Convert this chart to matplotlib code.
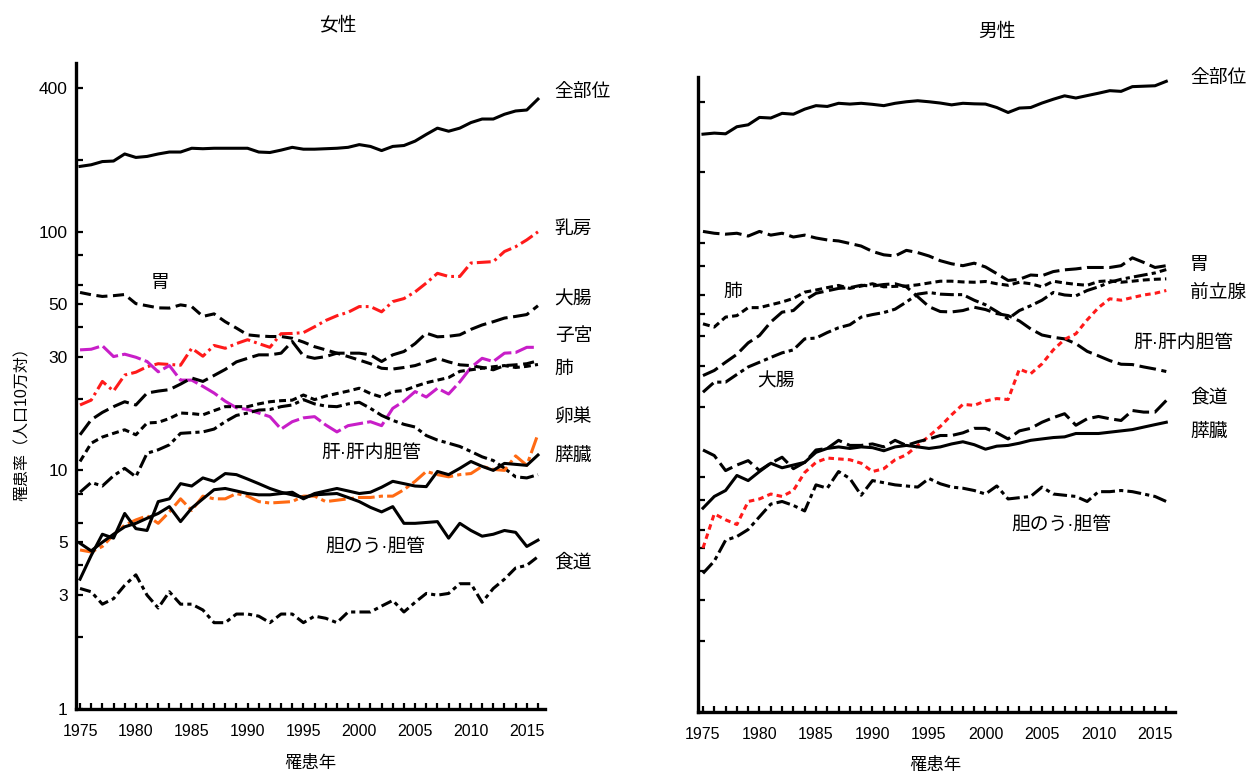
import numpy as np
import matplotlib
matplotlib.use("Agg")
import matplotlib.pyplot as plt
from matplotlib.ticker import FixedLocator, NullLocator, NullFormatter

plt.rcParams['font.family'] = ['Liberation Sans', 'Noto Sans CJK JP']
plt.rcParams['lines.scale_dashes'] = False

years = np.arange(1975, 2017)

# 女性
f_all = [188, 191, 197, 198, 212, 205, 207, 212, 216, 216, 224, 223, 224, 224, 224, 224, 216, 215, 220, 226,
         222, 222, 223, 224, 226, 232, 228, 219, 228, 230, 240, 256, 272, 264, 272, 287, 297, 297, 311, 321,
         324, 360]
f_breast = [18.8, 19.7, 23.6, 21.5, 25.1, 25.8, 27.2, 28, 27.8, 27.6, 32.5, 30.1, 33.4, 32.5, 34, 35.3, 34, 32.8, 37.4, 37.5,
            37.8, 40, 42.5, 44.5, 46, 48.6, 48.6, 46.2, 51, 52.5, 56, 61, 67, 65, 65, 74, 74.5, 75, 82.7, 86.6,
            92.5, 100]
f_stomach = [55.7, 54.5, 53.6, 54, 54.6, 50, 49, 48, 47.9, 49.4, 48.6, 44.2, 45.3, 42, 39.5, 37, 36.6, 36.4, 36.4, 35.8,
             34.5, 33, 32, 31, 30, 29, 28, 26.8, 26.6, 27, 27.5, 28.5, 29.5, 28.5, 27.7, 27.5, 27, 26.4, 27.5, 27.7,
             28, 28.8]
f_uterus = [32, 32.2, 33.3, 30, 30.7, 29.8, 28.6, 25.9, 27.5, 23.9, 23.9, 22.5, 21.1, 19.5, 18.3, 18, 17.4, 16.8, 14.9, 16,
            16.6, 16.8, 15.5, 14.5, 15.4, 15.7, 16, 15.4, 18.2, 19.5, 21.4, 20.3, 22.1, 20.9, 23.5, 27, 29.5, 28.6, 31, 31.2,
            32.8, 32.8]
f_colon = [14.1, 16.3, 17.5, 18.5, 19.4, 18.8, 21.1, 21.5, 21.8, 23, 24.4, 23.6, 25, 26.5, 28.5, 29.5, 30.5, 30.5, 31, 34.7,
           30.2, 29.5, 30, 31, 31, 31, 30.5, 28.6, 30.5, 31.5, 34, 37.6, 36.3, 36.5, 37, 39, 40.7, 42, 43.5, 44.2,
           45, 49]
f_lung = [10.9, 13, 13.8, 14.3, 14.8, 14.1, 15.8, 15.9, 16.5, 17.4, 17.3, 17.1, 17.8, 18.5, 18.5, 18.5, 19, 19.4, 19.6, 19.7,
          20.7, 19.8, 20.5, 21, 21.5, 22.1, 21, 20.3, 21.4, 21.6, 22.5, 23.3, 23.9, 24.5, 26, 26.4, 26.8, 27.2, 27.5, 27,
          27.3, 27.8]
f_liver = [8.1, 8.9, 8.6, 9.5, 10.2, 9.4, 11.8, 12.2, 12.8, 14.3, 14.4, 14.5, 14.9, 16, 17, 17.4, 17.9, 18, 18.5, 18.8,
           19.8, 19, 18.6, 18.5, 19, 19.3, 18.2, 17, 16.2, 15.6, 15.2, 14, 13.4, 13, 12.6, 12, 11.4, 11, 10.2, 9.4,
           9.3, 9.6]
f_ovary = [4.64, 4.55, 4.8, 5.37, 5.9, 6.2, 6.45, 6.0, 6.7, 7.6, 6.8, 7.8, 7.6, 7.6, 8.0, 7.8, 7.4, 7.3, 7.35, 7.4,
           7.8, 7.8, 7.4, 7.5, 7.6, 7.7, 7.7, 7.8, 7.8, 8.3, 9.0, 9.9, 9.6, 9.4, 9.6, 9.7, 10.4, 10.1, 10.0, 11.5,
           10.5, 14.2]
f_pancreas = [4.95, 4.6, 5.0, 5.4, 5.8, 6.0, 6.3, 6.6, 7.05, 6.1, 6.95, 7.6, 8.3, 8.4, 8.2, 8.0, 7.9, 7.9, 8.0, 8.1,
              7.6, 8.0, 8.2, 8.4, 8.2, 8.0, 8.1, 8.5, 9.0, 8.8, 8.6, 8.55, 9.9, 9.6, 10.2, 10.9, 10.4, 10.0, 10.7, 10.6,
              10.5, 11.6]
f_gall = [3.5, 4.4, 5.4, 5.2, 6.6, 5.7, 5.6, 7.4, 7.6, 8.8, 8.6, 9.3, 9.0, 9.7, 9.6, 9.2, 8.8, 8.4, 8.1, 7.9,
          7.7, 7.9, 7.95, 8.0, 7.7, 7.4, 7.0, 6.7, 7.05, 6.0, 6.0, 6.05, 6.1, 5.2, 6.0, 5.6, 5.3, 5.4, 5.6, 5.5,
          4.8, 5.1]
f_esoph = [3.2, 3.1, 2.75, 2.9, 3.3, 3.65, 3.0, 2.65, 3.1, 2.75, 2.75, 2.6, 2.3, 2.3, 2.5, 2.5, 2.45, 2.3, 2.5, 2.5,
           2.3, 2.45, 2.4, 2.3, 2.55, 2.55, 2.55, 2.7, 2.85, 2.55, 2.8, 3.05, 3.0, 3.05, 3.35, 3.35, 2.8, 3.2, 3.5, 3.9,
           4.0, 4.35]

# 男性
m_all = [291, 294, 292, 313, 319, 343, 341, 357, 354, 372, 385, 382, 394, 391, 394, 390, 385, 394, 400, 404,
         400, 395, 388, 394, 392, 391, 378, 360, 376, 378, 395, 410, 424, 415, 425, 435, 446, 443, 464, 466,
         468, 489]
m_stomach = [112, 110, 109, 110, 107, 112, 108, 110, 106, 108, 105, 103, 102, 99.5, 97, 92, 89, 88, 93, 91,
             88, 84, 81.5, 80, 82, 79, 74, 69.2, 70, 73, 72.5, 75.5, 76.8, 77.5, 78.6, 78.6, 78.6, 80, 86.4, 82.6,
             78.6, 80]
m_lung = [45.2, 43.8, 48.3, 49, 53, 53, 54.5, 56, 58, 61.7, 63, 64.5, 65.9, 64, 65.5, 67, 65, 65.3, 65.5, 66.3,
          67.5, 68.7, 68.7, 68.2, 68, 68.5, 67, 66, 68, 67, 65, 68.7, 67.5, 66.6, 66, 68.5, 69, 68, 68.7, 69.5,
          70, 70.3]
m_colon = [23.1, 25.5, 25.5, 27.5, 29.6, 31, 32.5, 34, 35, 39, 39.3, 41.5, 43.5, 44.8, 48.3, 49.5, 50.5, 52.2, 56, 60.5,
           61.5, 60.5, 60.2, 60.2, 57, 54.5, 51, 47.5, 51.5, 54, 57, 61.5, 60, 59.5, 62.7, 65, 68, 70, 71.5, 73,
           74.5, 77]
m_liver = [27.2, 28.6, 31, 33.5, 37.5, 40.3, 46, 50.7, 51.5, 57, 61, 62.5, 64, 64.5, 66, 65.5, 66.5, 67, 65, 59,
           53.5, 51, 50.8, 51.5, 53.2, 52, 50, 49, 46.5, 43, 40.5, 39.6, 39, 37.2, 34.5, 33, 31.5, 30.4, 30.3, 29.6,
           29, 28.3]
m_prostate = [5.0, 7.0, 6.6, 6.3, 7.9, 8.1, 8.5, 8.3, 8.8, 10.5, 11.6, 12.1, 12.0, 11.9, 11.5, 10.6, 10.9, 11.9, 12.5, 13.7,
              15.0, 16.5, 18.5, 20.5, 20.3, 21.2, 21.7, 21.5, 29, 27.7, 30.5, 35, 38.8, 41, 47, 53, 57.8, 57, 58.5, 60,
              61, 62.7]
m_esoph = [13.1, 12.4, 10.7, 11.3, 11.8, 10.7, 11.5, 12.2, 10.9, 11.6, 13.1, 13.3, 14.4, 13.7, 13.7, 13.9, 13.5, 14.4, 13.7, 14.2,
           14.6, 15.1, 15.1, 15.5, 16.2, 16.2, 15.5, 14.6, 15.8, 16.2, 17.2, 18, 18.7, 16.7, 17.8, 18.2, 17.8, 17.5, 19.3, 19.0,
           19.0, 21.3]
m_pancreas = [7.4, 8.3, 8.8, 10.2, 9.7, 10.6, 11.5, 11.0, 11.3, 11.6, 12.8, 13.3, 13.5, 13.3, 13.5, 13.4, 13.0, 13.5, 13.7, 13.5,
              13.3, 13.5, 13.9, 14.2, 13.8, 13.2, 13.6, 13.7, 14.0, 14.4, 14.6, 14.8, 14.9, 15.4, 15.4, 15.4, 15.6, 15.8, 16.0, 16.4,
              16.8, 17.2]
m_gall = [3.9, 4.4, 5.4, 5.6, 6.0, 6.8, 7.7, 7.9, 7.6, 7.2, 9.3, 9.0, 10.6, 9.9, 8.4, 9.7, 9.5, 9.3, 9.2, 9.1,
          9.9, 9.4, 9.1, 9.0, 8.8, 8.5, 9.2, 8.1, 8.2, 8.3, 9.1, 8.5, 8.4, 8.3, 7.9, 8.7, 8.7, 8.8, 8.7, 8.5,
          8.3, 7.9]

yticks = [1, 2, 3, 4, 5, 6, 8, 10, 20, 30, 40, 50, 60, 80, 100, 200, 400]
ylabeled = [1, 3, 5, 10, 30, 50, 100, 400]

RED = '#ff1a1a'
MAG = '#c81ec8'
ORG = '#ff6a13'
LW = 2.2

fig = plt.figure(figsize=(12.48, 7.74), dpi=100)
axL = fig.add_axes([0.0609, 0.0840, 0.3758, 0.8346])
axR = fig.add_axes([0.5593, 0.0801, 0.3822, 0.8204])


def style(ax, xlim, show_labels):
    ax.set_yscale('log')
    ax.set_ylim(1, 510)
    ax.set_xlim(*xlim)
    for s in ['top', 'right']:
        ax.spines[s].set_visible(False)
    for s in ['left', 'bottom']:
        ax.spines[s].set_linewidth(2.4)
    ax.yaxis.set_major_locator(FixedLocator(yticks))
    ax.yaxis.set_minor_locator(NullLocator())
    if show_labels:
        ax.set_yticklabels([str(t) if t in ylabeled else '' for t in yticks])
    else:
        ax.yaxis.set_major_formatter(NullFormatter())
    ax.set_xticks(range(1975, 2016, 5))
    ax.set_xticks(range(1975, 2017), minor=True)
    ax.tick_params(axis='x', which='both', direction='in', length=4, width=1.6, pad=11, labelsize=11.5)
    ax.tick_params(axis='y', which='major', direction='in', length=5, width=1.6, pad=6, labelsize=12.5)


def line(ax, vals, color='black', dashes=None):
    if dashes is None:
        ax.plot(years, vals, color=color, lw=LW, solid_joinstyle='round')
    else:
        ax.plot(years, vals, color=color, lw=LW, linestyle=(0, dashes), dash_joinstyle='round')


style(axL, (1974.64, 2016.63), True)
style(axR, (1974.56, 2016.77), False)

# 女性
line(axL, f_all)
line(axL, f_breast, RED, (10, 3, 2, 3))
line(axL, f_stomach, 'black', (8, 4))
line(axL, f_uterus, MAG, (14, 3))
line(axL, f_colon, 'black', (12, 4))
line(axL, f_lung, 'black', (5, 3))
line(axL, f_liver, 'black', (10, 3, 3, 3))
line(axL, f_ovary, ORG, (12, 3, 3, 3))
line(axL, f_pancreas)
line(axL, f_gall)
line(axL, f_esoph, 'black', (8, 3, 3, 3))

# 男性
line(axR, m_all)
line(axR, m_stomach, 'black', (12, 4))
line(axR, m_lung, 'black', (5, 3))
line(axR, m_colon, 'black', (10, 3, 3, 3))
line(axR, m_liver, 'black', (12, 4))
line(axR, m_prostate, RED, (4, 3))
line(axR, m_esoph, 'black', (12, 4))
line(axR, m_pancreas)
line(axR, m_gall, 'black', (10, 3, 3, 3))

FS = 13.5
kw = dict(fontsize=FS, va='center', ha='left', clip_on=False)
for name, y in [('全部位', 383), ('乳房', 102), ('大腸', 51.9), ('子宮', 36.3), ('肺', 26.4),
                ('卵巣', 16.6), ('膵臓', 11.4), ('食道', 4.1)]:
    axL.text(2017.5, y, name, **kw)
axL.text(1982.2, 60.5, '胃', fontsize=FS, va='center', ha='center')
axL.text(1996.6, 11.8, '肝·肝内胆管', **kw)
axL.text(1997.0, 4.76, '胆のう·胆管', **kw)

for name, y in [('全部位', 505), ('胃', 80), ('前立腺', 60.7), ('食道', 22.0), ('膵臓', 15.6)]:
    axR.text(2018.1, y, name, **kw)
axR.text(2013.1, 37.2, '肝·肝内胆管', **kw)
axR.text(1976.8, 61.7, '肺', **kw)
axR.text(1981.5, 25.5, '大腸', fontsize=FS, va='center', ha='center')
axR.text(2002.3, 6.26, '胆のう·胆管', **kw)

fig.text(338 / 1248, 1 - 25 / 774, '女性', fontsize=13.5, ha='center', va='center')
fig.text(997 / 1248, 1 - 32 / 774, '男性', fontsize=13.5, ha='center', va='center')
fig.text(310 / 1248, 1 - 763 / 774, '罹患年', fontsize=12.5, ha='center', va='center')
fig.text(935 / 1248, 1 - 765 / 774, '罹患年', fontsize=12.5, ha='center', va='center')
fig.text(22 / 1248, 1 - 420 / 774, '罹患率（人口10万対）', fontsize=11.5, rotation=90,
         ha='center', va='center')

fig.savefig('out.png', dpi=100)
